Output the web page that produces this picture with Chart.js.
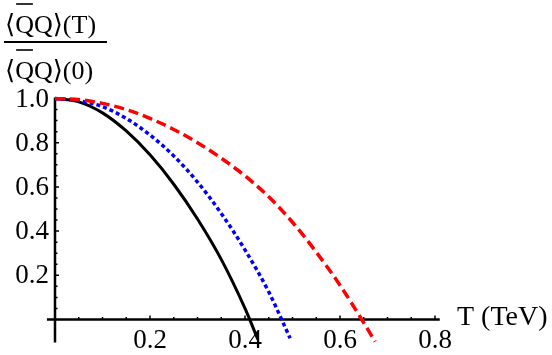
<!DOCTYPE html>
<html>
<head>
<meta charset="utf-8">
<script src="https://cdn.jsdelivr.net/npm/chart.js@4.4.0/dist/chart.umd.min.js"></script>
<style>
  html, body { margin: 0; padding: 0; background: #fff; }
  #box { width: 552px; height: 355px; }
</style>
</head>
<body>
<div id="box"><canvas id="myChart"></canvas></div>
<script>
// values
const blackT = [0, 0.05, 0.10, 0.15, 0.20, 0.25, 0.30, 0.35, 0.40, 0.427];
const blackY = [1, 0.985, 0.935, 0.853, 0.745, 0.612, 0.455, 0.272, 0.05, -0.09];

const blueT = [0, 0.05, 0.10, 0.15, 0.20, 0.25, 0.30, 0.35, 0.40, 0.45, 0.475, 0.495];
const blueY = [1, 0.99, 0.963, 0.91, 0.835, 0.74, 0.622, 0.48, 0.315, 0.125, 0.01, -0.085];

const redT = [0, 0.05, 0.10, 0.15, 0.20, 0.25, 0.30, 0.35, 0.40, 0.45, 0.50, 0.55, 0.60, 0.65, 0.674];
const redY = [1, 0.995, 0.978, 0.95, 0.91, 0.86, 0.80, 0.73, 0.65, 0.555, 0.44, 0.305, 0.155, -0.015, -0.1];

const xTicks = [0.2, 0.4, 0.6, 0.8];
const yTicks = [0.2, 0.4, 0.6, 0.8, 1.0];
const xTitle = 'T (TeV)';

function pts(xs, ys) {
    return xs.map((x, i) => ({x: x, y: ys[i]}));
}

const serif = '"Liberation Serif", "DejaVu Serif", serif';

// axes drawn Mathematica style through the origin
const axesPlugin = {
    id: 'axesPlugin',
    beforeDatasetsDraw(chart) {
        const { ctx, scales: {x, y} } = chart;
        const x0 = x.getPixelForValue(0);
        const y0 = y.getPixelForValue(0);
        ctx.save();
        ctx.strokeStyle = '#000';
        ctx.lineWidth = 2.5;
        ctx.beginPath();
        ctx.moveTo(x.getPixelForValue(-0.017), y0);
        ctx.lineTo(x.getPixelForValue(0.81), y0);
        ctx.moveTo(x0, y.getPixelForValue(1.0) - 1);
        ctx.lineTo(x0, y.getPixelForValue(-0.104));
        ctx.stroke();

        // ticks
        ctx.lineWidth = 1.5;
        ctx.beginPath();
        for (let i = 1; i <= 16; i++) {
            const v = i * 0.05;
            const len = (i % 4 === 0) ? 4 : 2.5;
            const px = x.getPixelForValue(v);
            ctx.moveTo(px, y0);
            ctx.lineTo(px, y0 - len);
        }
        for (let i = 1; i <= 20; i++) {
            const v = i * 0.05;
            const len = (i % 4 === 0) ? 4 : 2.5;
            const py = y.getPixelForValue(v);
            ctx.moveTo(x0, py);
            ctx.lineTo(x0 + len, py);
        }
        ctx.stroke();

        // tick labels
        ctx.fillStyle = '#000';
        ctx.font = '27px ' + serif;
        ctx.textAlign = 'center';
        ctx.textBaseline = 'alphabetic';
        xTicks.forEach(v => {
            ctx.fillText(v.toFixed(1), x.getPixelForValue(v), y0 + 29);
        });
        ctx.textAlign = 'right';
        ctx.textBaseline = 'middle';
        yTicks.forEach(v => {
            ctx.fillText(v.toFixed(1), x0 - 6, y.getPixelForValue(v) + 1);
        });

        // x axis title
        ctx.font = '28px ' + serif;
        ctx.textAlign = 'left';
        ctx.fillText(xTitle, 457, y0 - 2);

        // y axis title as a fraction
        ctx.font = '26px ' + serif;
        ctx.textBaseline = 'alphabetic';
        const drawBracket = (base, tail) => {
            let cx = 5;
            ctx.fillText('\u27E8', cx, base);
            cx += ctx.measureText('\u27E8').width;
            const qw = ctx.measureText('Q').width;
            ctx.fillText('Q', cx, base);
            ctx.lineWidth = 1.6;
            ctx.beginPath();
            ctx.moveTo(cx + 1, base - 29);
            ctx.lineTo(cx + qw - 1, base - 29);
            ctx.stroke();
            cx += qw;
            ctx.fillText('Q\u27E9' + tail, cx, base);
        };
        drawBracket(33, '(T)');
        drawBracket(79, '(0)');
        ctx.lineWidth = 2;
        ctx.beginPath();
        ctx.moveTo(4, 42);
        ctx.lineTo(107, 42);
        ctx.stroke();
        ctx.restore();
    }
};

const chartData = {
    datasets: [
        {
            data: pts(redT, redY),
            borderColor: '#ff0000',
            borderWidth: 3.5,
            borderDash: [10, 5],
            pointRadius: 0,
            cubicInterpolationMode: 'monotone',
            clip: false
        },
        {
            data: pts(blueT, blueY),
            borderColor: '#0000ff',
            borderWidth: 3.5,
            borderDash: [4, 3],
            pointRadius: 0,
            cubicInterpolationMode: 'monotone',
            clip: false
        },
        {
            data: pts(blackT, blackY),
            borderColor: '#000000',
            borderWidth: 3,
            pointRadius: 0,
            cubicInterpolationMode: 'monotone',
            clip: false
        }
    ]
};

const config = {
    type: 'line',
    data: chartData,
    options: {
        responsive: true,
        maintainAspectRatio: false,
        animation: false,
        layout: {
            padding: { left: 45.5, right: 107.5, top: 98.5, bottom: 12.3 }
        },
        plugins: {
            legend: { display: false },
            tooltip: { enabled: false }
        },
        scales: {
            x: { type: 'linear', min: -0.02, max: 0.82, display: false },
            y: { type: 'linear', min: -0.105, max: 1.0, display: false }
        }
    },
    plugins: [axesPlugin]
};

new Chart(document.getElementById('myChart'), config);
</script>
</body>
</html>
